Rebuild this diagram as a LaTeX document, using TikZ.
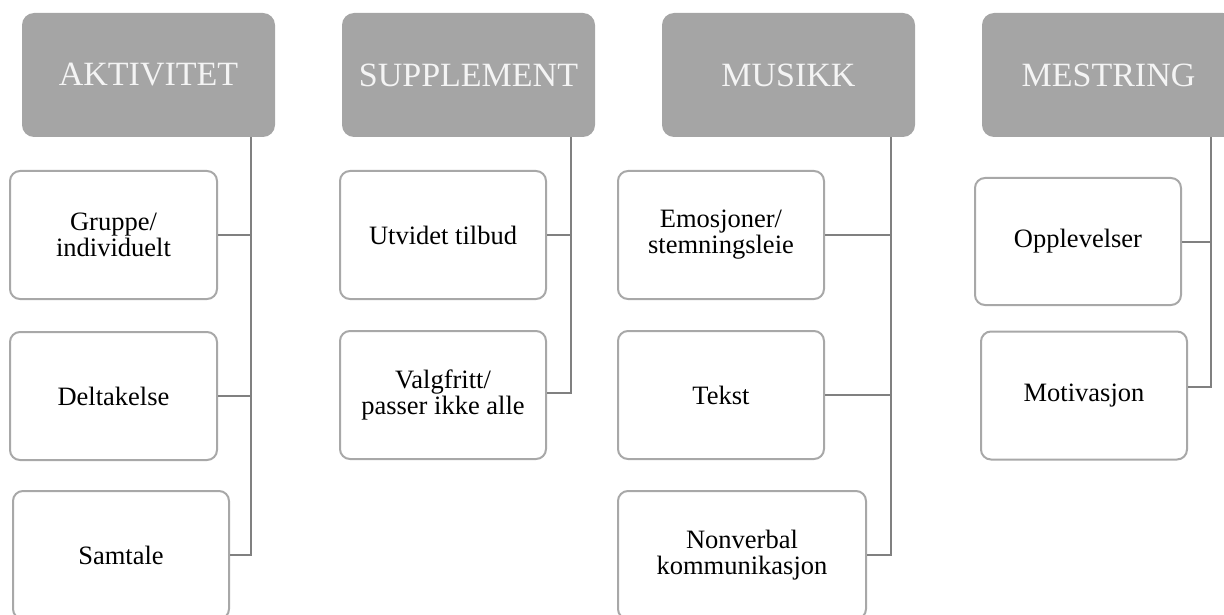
\documentclass[tikz,border=0pt]{standalone}
\usepackage{fontspec}
\setmainfont{Liberation Serif}
\definecolor{hgray}{HTML}{A5A5A5}
\definecolor{bgray}{HTML}{A8A8A8}
\definecolor{cgray}{HTML}{808080}
\definecolor{htext}{HTML}{F4F4F4}
\tikzset{
  hdr/.style={rectangle, rounded corners=12pt, fill=hgray, draw=none, inner sep=0pt,
    minimum width=253pt, minimum height=124pt, text=htext, font=\fontsize{34}{36}\selectfont},
  leaf/.style={rectangle, rounded corners=10pt, draw=bgray, line width=2pt, fill=white,
    inner sep=0pt, minimum width=206pt, minimum height=128pt, align=center,
    font=\fontsize{26.5}{26}\selectfont},
  conn/.style={draw=cgray, line width=2pt}
}
\begin{document}
\begin{tikzpicture}[x=1pt,y=-1pt]
\useasboundingbox (0,0) rectangle (1224,615);
\clip (0,0) rectangle (1224,615);
% headers
\node[hdr] (hA) at (148.5,75) {AKTIVITET};
\node[hdr] (hS) at (468.5,75) {SUPPLEMENT};
\node[hdr] (hM) at (788.5,75) {MUSIKK};
\node[hdr] (hE) at (1108.5,75) {MESTRING};
% leaves
\node[leaf, minimum width=207pt] (A1) at (113.5,235) {Gruppe/\\individuelt};
\node[leaf, minimum width=207pt] (A2) at (113.5,396) {Deltakelse};
\node[leaf, minimum width=216pt] (A3) at (121,555) {Samtale};
\node[leaf] (S1) at (443,235) {Utvidet tilbud};
\node[leaf] (S2) at (443,395) {Valgfritt/\\passer ikke alle};
\node[leaf] (M1) at (721,235) {Emosjoner/\\stemningsleie};
\node[leaf] (M2) at (721,395) {Tekst};
\node[leaf, minimum width=248pt] (M3) at (742,555) {Nonverbal\\kommunikasjon};
\node[leaf, minimum height=127pt] (E1) at (1078,241.5) {Opplevelser};
\node[leaf] (E2) at (1084,395.5) {Motivasjon};
% trunk coordinates
\coordinate (vA) at ([xshift=229pt]hA.south west);
\coordinate (vS) at ([xshift=229pt]hS.south west);
\coordinate (vM) at ([xshift=229pt]hM.south west);
\coordinate (vE) at ([xshift=229pt]hE.south west);
% connectors
\draw[conn] (vA) |- (A3.east);
\draw[conn] (A1.east) -- (A1.east -| vA);
\draw[conn] (A2.east) -- (A2.east -| vA);
\draw[conn] (vS) |- ([yshift=2pt]S2.east);
\draw[conn] (S1.east) -- (S1.east -| vS);
\draw[conn] (vM) |- (M3.east);
\draw[conn] (M1.east) -- (M1.east -| vM);
\draw[conn] (M2.east) -- (M2.east -| vM);
\coordinate (e2c) at ([yshift=8.5pt]E2.east);
\draw[conn] (vE) |- (e2c);
\draw[conn] (E1.east) -- (E1.east -| vE);
\end{tikzpicture}
\end{document}
